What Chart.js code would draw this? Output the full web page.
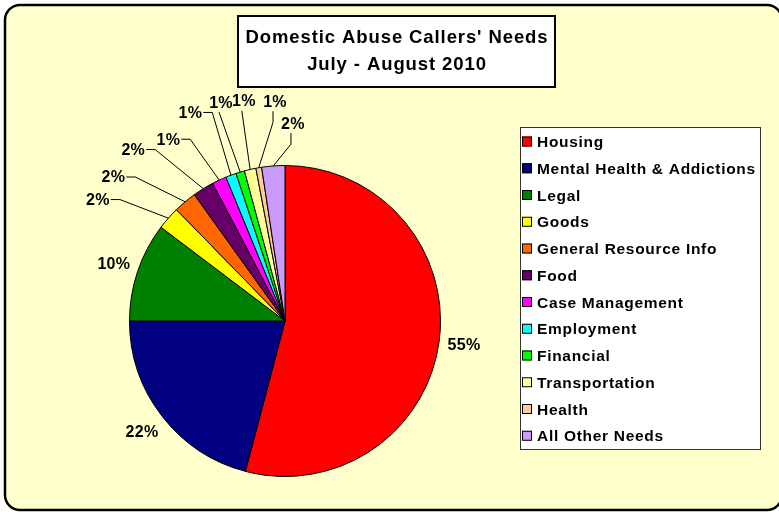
<!DOCTYPE html>
<html>
<head>
<meta charset="utf-8">
<title>Domestic Abuse Callers' Needs</title>
<script src="https://cdn.jsdelivr.net/npm/chart.js@4.4.1/dist/chart.umd.min.js"></script>
<style>
  html, body { margin: 0; padding: 0; background: #fff; }
  #wrap { width: 779px; height: 512px; }
</style>
</head>
<body>
<div id="wrap"><canvas id="canvas-1" width="779" height="512"></canvas></div>
<script>
'use strict';

// categories, in the order the slices run clockwise from 12 o'clock
var needs = ['Housing', 'Mental Health & Addictions', 'Legal', 'Goods', 'General Resource Info', 'Food',
    'Case Management', 'Employment', 'Financial', 'Transportation', 'Health', 'All Other Needs'];
var shares = [54.1, 20.9, 10.3, 2.4, 2.4, 2.2, 1.5, 1.1, 0.9, 1.2, 0.6, 2.4];
// percentages as printed next to the slices
var pctLabels = ['55%', '22%', '10%', '2%', '2%', '2%', '1%', '1%', '1%', '1%', '1%', '2%'];
var titleLines = ["Domestic Abuse Callers' Needs", 'July - August 2010'];

var sliceColors = ['#FF0000', '#000080', '#008000', '#FFFF00', '#FF6600', '#660066',
    '#FF00FF', '#00FFFF', '#00FF00', '#FFFF99', '#FFCC99', '#CC99FF'];

// where the labels of the thin slices were dragged to:
// [degrees clockwise from 12 o'clock, distance from the pie centre]
var smallLabelSpots = [[303, 223], [310, 224], [318.5, 229], [327.3, 216], [335.6, 229],
    [343.7, 228], [349.4, 224], [357.4, 220], [362.3, 198]];

var FONT = '"Liberation Sans", Arial, sans-serif';
var DEG = Math.PI / 180;

// pale yellow card with the rounded black border
var framePlugin = {
    id: 'frame',
    beforeDraw: function (chart) {
        var ctx = chart.ctx;
        ctx.save();
        ctx.fillStyle = '#fff';
        ctx.fillRect(0, 0, chart.width, chart.height);
        ctx.beginPath();
        ctx.roundRect(5, 5, 777, 505, 15);
        ctx.fillStyle = '#FFFFCC';
        ctx.fill();
        ctx.lineWidth = 2.5;
        ctx.strokeStyle = '#000';
        ctx.stroke();
        ctx.restore();
    }
};

// percentage labels, with leader lines for the thin slices
var labelPlugin = {
    id: 'pctLabels',
    afterDatasetsDraw: function (chart) {
        var ctx = chart.ctx;
        var arcs = chart.getDatasetMeta(0).data;
        var cx = arcs[0].x, cy = arcs[0].y, r = arcs[0].outerRadius;
        var firstSmall = arcs.length - smallLabelSpots.length;

        ctx.save();
        ctx.font = 'bold 16px ' + FONT;
        ctx.letterSpacing = '0.3px';
        ctx.fillStyle = '#000';
        ctx.strokeStyle = '#000';
        ctx.lineWidth = 1;
        ctx.textAlign = 'center';
        ctx.textBaseline = 'middle';

        for (var i = 0; i < arcs.length; i++) {
            var m = (arcs[i].startAngle + arcs[i].endAngle) / 2;
            var lx, ly;
            if (i < firstSmall) {
                lx = cx + (r + 25) * Math.cos(m);
                ly = cy + (r + 25) * Math.sin(m);
                ctx.fillText(pctLabels[i], lx, ly + 1);
                continue;
            }
            var spot = smallLabelSpots[i - firstSmall];
            var a = (spot[0] - 90) * DEG;
            lx = cx + spot[1] * Math.cos(a);
            ly = cy + spot[1] * Math.sin(a);
            ctx.fillText(pctLabels[i], lx, ly + 1);

            var ex = cx + r * Math.cos(m), ey = cy + r * Math.sin(m);
            var w = ctx.measureText(pctLabels[i]).width;
            ctx.beginPath();
            if (spot[0] > 340) {
                // labels above the pie hang their leader from underneath
                ctx.moveTo(lx - 2, ly + 10);
                if (spot[0] > 352) ctx.lineTo(lx - 2, ly + 21);
            } else {
                ctx.moveTo(lx + w / 2 + 1, ly);
                ctx.lineTo(lx + w / 2 + 10, ly);
            }
            ctx.lineTo(ex, ey);
            ctx.stroke();
        }
        ctx.restore();
    }
};

// title box and legend box
var boxesPlugin = {
    id: 'boxes',
    afterDraw: function (chart) {
        var ctx = chart.ctx;
        ctx.save();

        ctx.fillStyle = '#fff';
        ctx.fillRect(238, 16, 317, 71);
        ctx.lineWidth = 2;
        ctx.strokeStyle = '#000';
        ctx.strokeRect(238, 16, 317, 71);

        ctx.fillStyle = '#000';
        ctx.font = 'bold 18.5px ' + FONT;
        ctx.letterSpacing = '0.9px';
        ctx.textAlign = 'center';
        ctx.textBaseline = 'alphabetic';
        ctx.fillText(titleLines[0], 397, 43);
        ctx.fillText(titleLines[1], 397, 70);

        ctx.fillStyle = '#fff';
        ctx.fillRect(520, 127, 241, 323);
        ctx.lineWidth = 1;
        ctx.strokeStyle = '#333';
        ctx.strokeRect(520.5, 127.5, 240, 322);

        ctx.font = 'bold 15.5px ' + FONT;
        ctx.letterSpacing = '0.7px';
        ctx.textAlign = 'left';
        for (var i = 0; i < needs.length; i++) {
            var yc = 141.5 + i * 26.75;
            ctx.fillStyle = sliceColors[i];
            ctx.fillRect(522, yc - 5, 10, 10);
            ctx.strokeStyle = '#000';
            ctx.strokeRect(522.5, yc - 4.5, 9, 9);
            ctx.fillStyle = '#000';
            ctx.fillText(needs[i], 537, yc + 5.5);
        }
        ctx.restore();
    }
};

var ctx = document.getElementById('canvas-1');
var chart = new Chart(ctx, {
    type: 'pie',
    data: {
        labels: needs,
        datasets: [{
            data: shares,
            backgroundColor: sliceColors,
            borderColor: '#000',
            borderWidth: 1
        }]
    },
    options: {
        responsive: false,
        animation: false,
        layout: { padding: { left: 129, right: 338, top: 165, bottom: 35 } },
        plugins: {
            legend: { display: false },
            title: { display: false },
            tooltip: { enabled: false }
        }
    },
    plugins: [framePlugin, labelPlugin, boxesPlugin]
});
</script>
</body>
</html>
